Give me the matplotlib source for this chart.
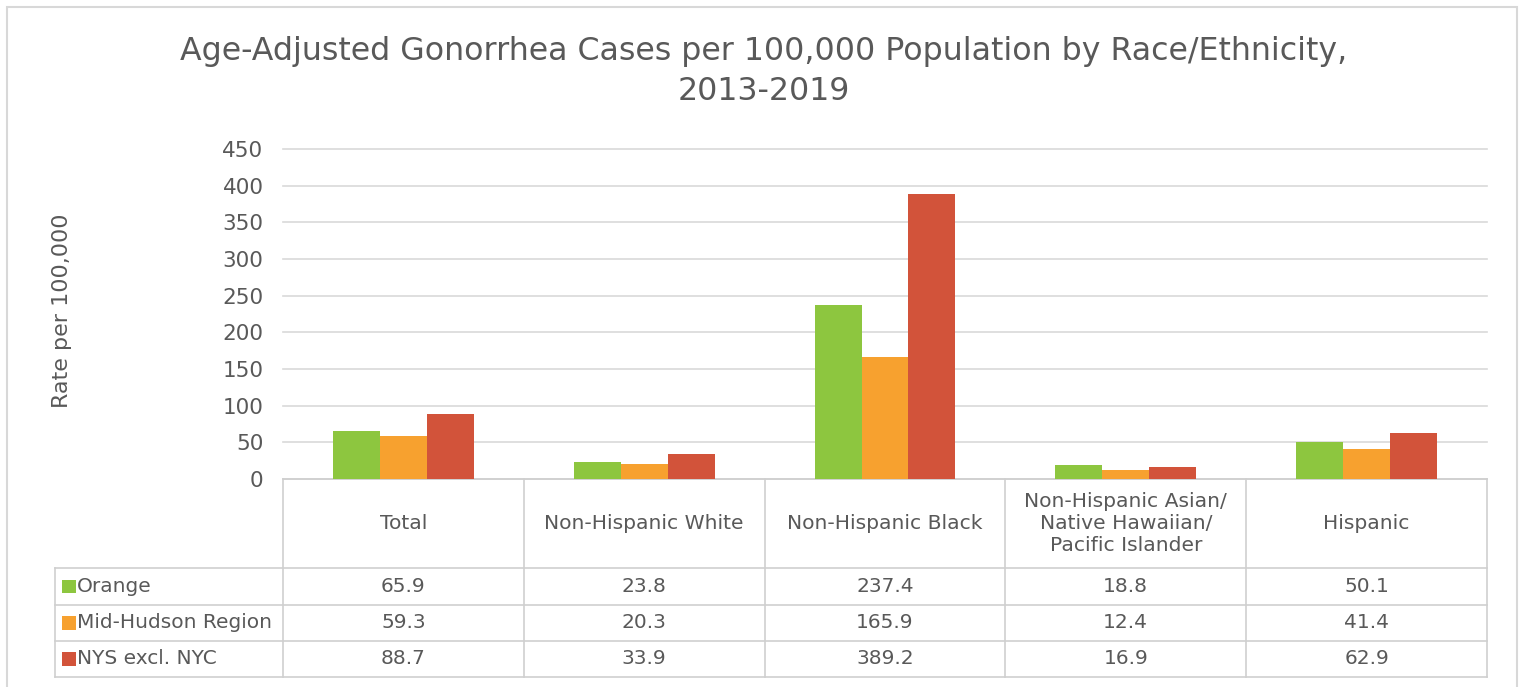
import matplotlib
matplotlib.use("Agg")
import matplotlib.pyplot as plt
from matplotlib.patches import Rectangle
from matplotlib.transforms import blended_transform_factory
import numpy as np

categories = ["Total", "Non-Hispanic White", "Non-Hispanic Black",
              "Non-Hispanic Asian/\nNative Hawaiian/\nPacific Islander", "Hispanic"]
series_names = ["Orange", "Mid-Hudson Region", "NYS excl. NYC"]
orange_vals = [65.9, 23.8, 237.4, 18.8, 50.1]
midhudson_vals = [59.3, 20.3, 165.9, 12.4, 41.4]
nys_vals = [88.7, 33.9, 389.2, 16.9, 62.9]
colors = ["#8DC63F", "#F7A12F", "#D2533A"]
yticks = [0, 50, 100, 150, 200, 250, 300, 350, 400, 450]
title = "Age-Adjusted Gonorrhea Cases per 100,000 Population by Race/Ethnicity,\n2013-2019"
ylabel = "Rate per 100,000"

plt.rcParams['font.family'] = ['DejaVu Sans']
txt = "#595959"
grid_c = "#D9D9D9"
line_c = "#CFCFCF"

fig = plt.figure(figsize=(15.2, 6.87), dpi=100)
fig.patch.set_facecolor("white")
# outer border
fig.add_artist(Rectangle((7/1520, -0.01), 1510/1520, 1 - 7/687 + 0.01, transform=fig.transFigure,
                         fill=False, edgecolor="#D8D8D8", lw=1.5))

ax = fig.add_axes([283/1520, 208/687, 1204/1520, 330/687])
series = [orange_vals, midhudson_vals, nys_vals]
x = np.arange(len(categories))
w = 0.195
for i, (vals, c) in enumerate(zip(series, colors)):
    ax.bar(x + (i - 1) * w, vals, width=w, color=c, zorder=3)

ax.set_xlim(-0.5, len(categories) - 0.5)
ax.set_ylim(0, 450)
ax.set_yticks(yticks)
ax.set_yticklabels([str(t) for t in yticks], color=txt, fontsize=15.5)
ax.tick_params(axis='y', length=0, pad=14)
ax.set_xticks([])
for s in ax.spines.values():
    s.set_visible(False)
ax.grid(axis='y', color=grid_c, lw=1.2, zorder=0)
for gl in ax.get_ygridlines():
    gl.set_clip_on(False)
ax.set_axisbelow(True)
ax.set_ylabel(ylabel, color=txt, fontsize=16)
ax.yaxis.set_label_coords(-0.175, 0.51)

fig.text(0.5025, 0.896, title, ha='center', va='center', fontsize=22.8, color=txt, linespacing=1.4)

# table
tr = blended_transform_factory(ax.transData, ax.transAxes)
n = len(categories)
y_head = 0.0
y_rows = [-0.2697, -0.3818, -0.4909, -0.6]
x_left = -1.446
kw = dict(transform=tr, clip_on=False, color=line_c, lw=1.2)
# horizontal lines
ax.plot([-0.5, n - 0.5], [y_head, y_head], **kw)
for yy in y_rows:
    ax.plot([x_left, n - 0.5], [yy, yy], **kw)
# vertical lines
for b in np.arange(n + 1) - 0.5:
    ax.plot([b, b], [y_head, y_rows[-1]], **kw)
ax.plot([x_left, x_left], [y_rows[0], y_rows[-1]], **kw)

# header labels
for i, c in enumerate(categories):
    ax.text(i, (y_head + y_rows[0]) / 2, c, transform=tr, ha='center', va='center',
            fontsize=14.6, color=txt, linespacing=1.2, clip_on=False)
# rows
for r, (name, vals, c) in enumerate(zip(series_names, series, colors)):
    yc = (y_rows[r] + y_rows[r + 1]) / 2
    ax.add_patch(Rectangle((-1.417, yc - 0.021), 0.056, 0.042, transform=tr,
                           facecolor=c, edgecolor='none', clip_on=False))
    ax.text(-1.355, yc, name, transform=tr, ha='left', va='center', fontsize=14.5,
            color=txt, clip_on=False)
    for i, v in enumerate(vals):
        ax.text(i, yc, f"{v:.1f}", transform=tr, ha='center', va='center', fontsize=14.5,
                color=txt, clip_on=False)

fig.savefig("out.png", dpi=100, facecolor="white")
